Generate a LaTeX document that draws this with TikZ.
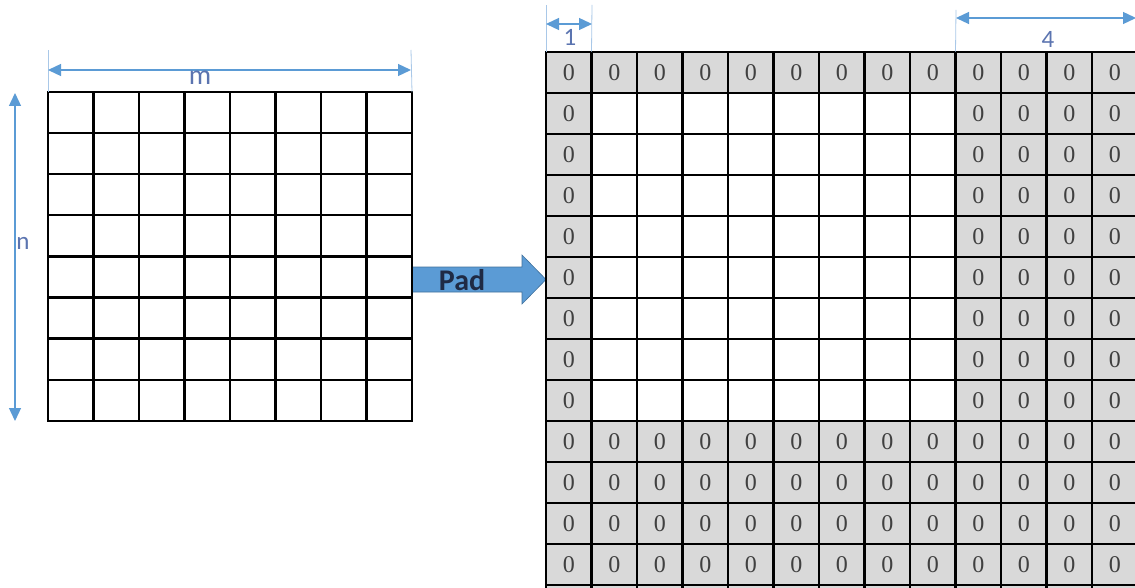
\documentclass[tikz,border=0pt]{standalone}
\usepackage{fontspec}
\setmainfont{Carlito}
\newfontfamily\zerofont{Liberation Serif}
\usetikzlibrary{arrows.meta}
\definecolor{dimblue}{HTML}{5B9BD5}
\definecolor{extblue}{HTML}{A9C8E8}
\definecolor{lblblue}{HTML}{5B74B0}
\definecolor{cellgray}{HTML}{D9D9D9}
\definecolor{zerogray}{HTML}{404040}
\definecolor{padfill}{HTML}{5B9BD5}
\definecolor{padedge}{HTML}{41719C}
\definecolor{padtext}{HTML}{1F2A44}
\begin{document}
\begin{tikzpicture}[x=1pt,y=-1pt,
  cell/.style={draw=black, line width=2.2pt, minimum width=45.5pt, minimum height=41pt, inner sep=0pt, outer sep=0pt, anchor=center},
  zcell/.style={cell, fill=cellgray, text=zerogray, font=\zerofont\fontsize{24}{24}\selectfont},
  dimline/.style={draw=dimblue, line width=1.3pt, {Triangle[length=13pt,width=12pt]}-{Triangle[length=13pt,width=12pt]}},
  extline/.style={draw=extblue, line width=0.8pt},
  lbl/.style={text=lblblue, inner sep=0pt, font=\fontsize{25}{25}\selectfont},
  padarrow/.style={fill=padfill, draw=padedge, line width=0.6pt},
  padlbl/.style={text=padtext, inner sep=0pt, font=\bfseries\fontsize{30}{30}\selectfont}
]
\clip (0,0) rectangle (1135,588);
\fill[white] (0,0) rectangle (1135,588);

% Pad arrow
\draw[padarrow] (412,267) -- (522,267) -- (522,255) -- (546,279.5) -- (522,304) -- (522,292) -- (412,292) -- cycle;
\node[padlbl] (pad) at (462,280) {Pad};

% left grid
\foreach \i in {0,...,7}{
  \foreach \j in {0,...,7}{
    \node[cell] (L-\i-\j) at ({48+45.5*(\j+0.5)},{92+41.1*(\i+0.5)}) {};
  }
}

% right grid
\foreach \i in {0,...,12}{
  \foreach \j in {0,...,12}{
    \pgfmathtruncatemacro\g{(\i==0)||(\j==0)||(\j>8)||(\i>8)}
    \ifnum\g=1
      \node[zcell] (R-\i-\j) at ({546+45.5*(\j+0.5)},{51.7+41*(\i+0.5)}) {0};
    \else
      \node[cell] (R-\i-\j) at ({546+45.5*(\j+0.5)},{51.7+41*(\i+0.5)}) {};
    \fi
  }
}
% row below the picture edge (only its top shows)
\foreach \j in {0,...,12}{
  \node[cell, fill=cellgray] (R-13-\j) at ({546+45.5*(\j+0.5)},{51.7+41*13.5}) {};
}

% m dimension
\coordinate (mA) at (48,70);
\coordinate (mB) at (411,70);
\draw[extline] (L-0-0.north west) -- (48,50);
\draw[extline] (L-0-7.north east) -- (411,50);
\draw[dimline] (mA) -- (mB);
\node[lbl, font=\fontsize{28}{28}\selectfont] (mlbl) at (200,78) {m};

% n dimension
\coordinate (nA) at (15,93);
\coordinate (nB) at (15,421);
\draw[dimline] (nA) -- (nB);
\node[lbl] (nlbl) at (23,243) {n};

% 1 dimension
\coordinate (oA) at (546,24);
\coordinate (oB) at (592,24);
\draw[extline] (R-0-0.north west) -- (546,5);
\draw[extline] (R-0-0.north east) -- (592,5);
\draw[dimline] (oA) -- (oB);
\node[lbl] (olbl) at (570,37) {1};

% 4 dimension
\coordinate (fA) at (956,18);
\coordinate (fB) at (1136,18);
\draw[extline] (R-0-9.north west) -- (956,10);
\draw[dimline] (fA) -- (fB);
\node[lbl] (flbl) at (1048,39) {4};
\end{tikzpicture}
\end{document}
